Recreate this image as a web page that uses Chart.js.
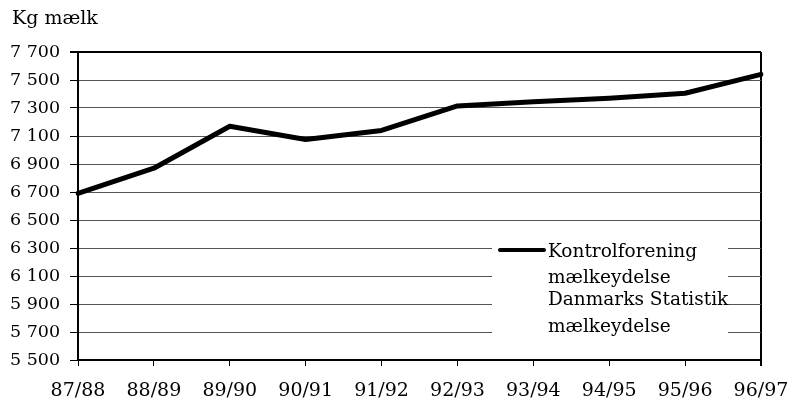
<!DOCTYPE html>
<html>
<head>
<meta charset="utf-8">
<script src="https://cdn.jsdelivr.net/npm/chart.js@4/dist/chart.umd.min.js"></script>
<style>
  body { margin: 0; background: #fff; }
  #wrap { position: relative; width: 794px; height: 400px; font-family: "DejaVu Serif", serif; color: #000; }
  #unit { position: absolute; left: 12px; top: 6px; font-size: 19px; }
  #legend { position: absolute; left: 492px; top: 236px; width: 236px; height: 104px; background: #fff; font-size: 18.5px; }
  #legend .swatch { position: absolute; left: 6px; top: 12px; width: 48px; height: 4px; background: #000; border-radius: 2px; }
  #legend .txt { position: absolute; left: 56px; line-height: 20px; white-space: nowrap; }
</style>
</head>
<body>
<div id="wrap">
  <canvas id="chart" width="794" height="400"></canvas>
  <div id="unit">Kg mælk</div>
  <div id="legend"></div>
</div>
<script>
// data
const seasons = ['87/88', '88/89', '89/90', '90/91', '91/92', '92/93', '93/94', '94/95', '95/96', '96/97'];
const kontrolMilk = [6690, 6870, 7170, 7075, 7140, 7315, 7345, 7370, 7405, 7540];
const seriesNames = [['Kontrolforening', 'mælkeydelse'], ['Danmarks Statistik', 'mælkeydelse']];
const yMin = 5500;
const yMax = 7700;
const yStep = 200;

const family = '"DejaVu Serif", serif';

// thousands with a space, as in the original: 7 700
function fmt(v) {
  return String(v).replace(/\B(?=(\d{3})+(?!\d))/g, ' ');
}

new Chart(document.getElementById('chart'), {
  type: 'line',
  data: {
    labels: seasons,
    datasets: [{
      label: seriesNames[0].join(' '),
      data: kontrolMilk,
      borderColor: '#000',
      borderWidth: 5,
      pointRadius: 0,
      tension: 0,
      borderCapStyle: 'round',
      borderJoinStyle: 'round'
    }]
  },
  options: {
    responsive: false,
    animation: false,
    layout: { padding: { left: 10, right: 33, top: 52, bottom: 0 } },
    plugins: { legend: { display: false }, tooltip: { enabled: false } },
    scales: {
      x: {
        afterFit: s => { s.height = 40; s.paddingRight = 0; },
        ticks: {
          color: '#000',
          font: { family: family, size: 19 },
          padding: 14,
          maxRotation: 0,
          autoSkip: false
        },
        border: { color: '#000', width: 2 },
        grid: {
          color: ctx => ctx.index === seasons.length - 1 ? '#000' : 'rgba(0,0,0,0)',
          lineWidth: ctx => ctx.index === seasons.length - 1 ? 2 : 1,
          tickColor: '#000',
          tickLength: 6
        }
      },
      y: {
        min: yMin,
        max: yMax,
        afterFit: s => { s.width = 68; },
        ticks: {
          stepSize: yStep,
          color: '#000',
          font: { family: family, size: 17.5 },
          crossAlign: 'far',
          padding: 4,
          callback: v => fmt(v)
        },
        border: { color: '#000', width: 2 },
        grid: {
          color: ctx => ctx.tick && ctx.tick.value === yMax ? '#000' : '#555',
          lineWidth: ctx => ctx.tick && ctx.tick.value === yMax ? 2 : 1,
          tickColor: '#000',
          tickLength: 8
        }
      }
    }
  }
});

// legend: two entries, each wrapped over two lines, only the first has a line sample
const legend = document.getElementById('legend');
const lineTops = [[5, 31], [53, 80]];
seriesNames.forEach((lines, i) => {
  if (i === 0) {
    const sw = document.createElement('div');
    sw.className = 'swatch';
    legend.appendChild(sw);
  }
  lines.forEach((t, j) => {
    const el = document.createElement('div');
    el.className = 'txt';
    el.style.top = lineTops[i][j] + 'px';
    el.textContent = t;
    legend.appendChild(el);
  });
});
</script>
</body>
</html>
